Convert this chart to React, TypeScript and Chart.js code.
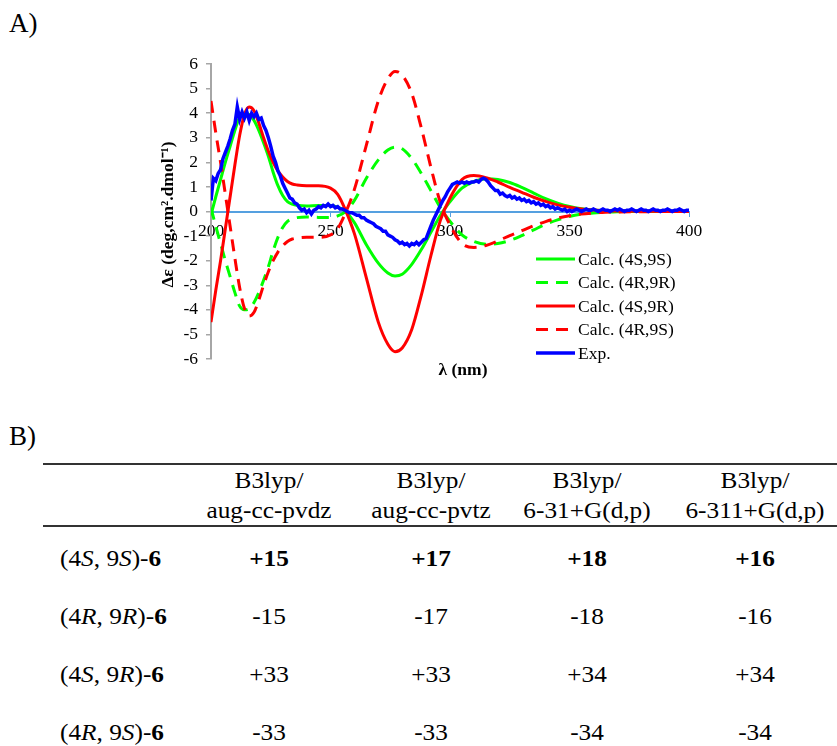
import React, { useEffect, useRef } from 'react';
import { Chart, registerables } from 'chart.js';

Chart.register(...registerables);

// ---------- Chart data (panel A) ----------
const calcWavelength = [
  200, 202, 204, 206, 208, 210, 212, 214, 216, 218, 220, 222, 224, 226, 228, 230, 232, 234, 236, 240,
  245, 250, 253, 256, 260, 265, 270, 274, 277, 280, 284, 288, 292, 296, 300, 305, 310, 315, 320, 325,
  330, 335, 340, 345, 350, 355, 360, 365, 370, 380, 390, 400,
];
const calc4S9S = [
  -0.15, 0.6, 1.3, 2.0, 2.65, 3.3, 3.85, 4.0, 3.95, 3.7, 3.3, 2.8, 2.25, 1.6, 1.05, 0.65, 0.4, 0.3, 0.25, 0.22,
  0.24, 0.24, 0.18, 0.03, -0.45, -1.35, -2.1, -2.5, -2.62, -2.55, -2.15, -1.55, -0.85, -0.15, 0.4, 0.95, 1.22, 1.33, 1.3, 1.18,
  0.98, 0.75, 0.52, 0.34, 0.2, 0.11, 0.06, 0.03, 0.01, 0, 0, 0,
];
const calc4R9R = [
  0.15, -0.6, -1.3, -2.0, -2.65, -3.3, -3.85, -4.0, -3.95, -3.7, -3.3, -2.8, -2.25, -1.6, -1.05, -0.65, -0.4, -0.3, -0.25, -0.22,
  -0.24, -0.24, -0.18, -0.03, 0.45, 1.35, 2.1, 2.5, 2.62, 2.55, 2.15, 1.55, 0.85, 0.15, -0.4, -0.95, -1.22, -1.33, -1.3, -1.18,
  -0.98, -0.75, -0.52, -0.34, -0.2, -0.11, -0.06, -0.03, -0.01, 0, 0, 0,
];
const calc4S9R = [
  -4.5, -3.2, -2.0, -0.7, 0.6, 1.9, 3.1, 3.95, 4.25, 4.1, 3.6, 3.0, 2.45, 2.0, 1.65, 1.4, 1.22, 1.12, 1.08, 1.05,
  1.05, 0.95, 0.7, 0.12, -0.9, -2.7, -4.5, -5.4, -5.7, -5.55, -4.8, -3.4, -1.8, -0.35, 0.55, 1.3, 1.46, 1.38, 1.2, 0.98,
  0.78, 0.58, 0.41, 0.27, 0.17, 0.1, 0.06, 0.03, 0.02, 0.01, 0, 0,
];
const calc4R9S = [
  4.5, 3.2, 2.0, 0.7, -0.6, -1.9, -3.1, -3.95, -4.25, -4.1, -3.6, -3.0, -2.45, -2.0, -1.65, -1.4, -1.22, -1.12, -1.08, -1.05,
  -1.05, -0.95, -0.7, -0.12, 0.9, 2.7, 4.5, 5.4, 5.7, 5.55, 4.8, 3.4, 1.8, 0.35, -0.55, -1.3, -1.46, -1.38, -1.2, -0.98,
  -0.78, -0.58, -0.41, -0.27, -0.17, -0.1, -0.06, -0.03, -0.02, -0.01, 0, 0,
];

const expWavelength = [
  200, 201, 202, 203, 204, 205, 206, 207, 208, 209, 210, 211, 212, 213, 214, 215, 216, 217, 218, 219,
  220, 221, 222, 223, 224, 225, 226, 227, 228, 229, 230, 231, 232, 233, 234, 235, 236, 237, 238, 239,
  240, 241, 242, 243, 244, 245, 246, 247, 248, 249, 250, 251, 252, 253, 254, 255, 256, 257, 258, 259,
  260, 261, 262, 263, 264, 265, 266, 267, 268, 269, 270, 271, 272, 273, 274, 275, 276, 277, 278, 279,
  280, 281, 282, 283, 284, 285, 286, 287, 288, 289, 290, 291, 292, 293, 294, 295, 296, 297, 298, 299,
  300, 301, 302, 303, 304, 305, 306, 307, 308, 309, 310, 311, 312, 313, 314, 315, 316, 317, 318, 319,
  320, 321, 322, 323, 324, 325, 326, 327, 328, 329, 330, 331, 332, 333, 334, 335, 336, 337, 338, 339,
  340, 341, 342, 343, 344, 345, 346, 347, 348, 349, 350, 351, 352, 353, 354, 355, 356, 357, 358, 359,
  360, 361, 362, 363, 364, 365, 366, 367, 368, 369, 370, 371, 372, 373, 374, 375, 376, 377, 378, 379,
  380, 381, 382, 383, 384, 385, 386, 387, 388, 389, 390, 391, 392, 393, 394, 395, 396, 397, 398, 399,
  400,
];
const expValues = [
  0.45, 1.35, 1.25, 1.55, 1.7, 2.15, 2.4, 2.65, 2.95, 3.3,
  3.55, 4.25, 3.75, 4.05, 3.8, 4.05, 3.7, 4.0, 3.85, 4.0,
  3.75, 3.8, 3.5, 3.3, 3.0, 2.65, 2.25, 2.0, 1.65, 1.45,
  1.15, 0.95, 0.75, 0.55, 0.5, 0.35, 0.3, 0.15, 0.05, 0.1,
  -0.05, 0.05, -0.1, 0.05, 0.1, 0.2, 0.15, 0.25, 0.2, 0.3,
  0.2, 0.25, 0.15, 0.2, 0.1, 0.1, 0.05, 0.0, -0.05, -0.05,
  -0.1, -0.15, -0.15, -0.25, -0.25, -0.35, -0.4, -0.45, -0.5, -0.6,
  -0.65, -0.7, -0.8, -0.8, -0.95, -1.0, -1.05, -1.15, -1.2, -1.3,
  -1.25, -1.35, -1.3, -1.4, -1.3, -1.35, -1.25, -1.35, -1.25, -1.15,
  -1.1, -0.85, -0.6, -0.35, -0.15, 0.05, 0.25, 0.45, 0.6, 0.8,
  0.95, 1.1, 1.15, 1.2, 1.15, 1.2, 1.15, 1.2, 1.15, 1.2,
  1.2, 1.25, 1.2, 1.3, 1.35, 1.3, 1.2, 1.05, 0.95, 0.85,
  0.85, 0.7, 0.75, 0.65, 0.6, 0.65, 0.55, 0.6, 0.5, 0.55,
  0.45, 0.5, 0.4, 0.45, 0.35, 0.4, 0.3, 0.35, 0.25, 0.3,
  0.2, 0.25, 0.15, 0.2, 0.1, 0.15, 0.1, 0.05, 0.1, 0.0,
  0.05, 0.0, 0.05, 0.1, 0.05, 0.0, 0.05, 0.1, 0.05, 0.05,
  0.1, 0.05, 0.0, 0.05, 0.1, 0.05, 0.05, 0.0, 0.05, 0.1,
  0.05, 0.1, 0.05, 0.0, 0.05, 0.05, 0.1, 0.05, 0.0, 0.05,
  0.1, 0.05, 0.05, 0.0, 0.05, 0.1, 0.05, 0.05, 0.0, 0.05,
  0.05, 0.1, 0.05, 0.0, 0.05, 0.05, 0.1, 0.05, 0.0, 0.05,
  0.05,
];

const seriesLabels = ['Calc. (4S,9S)', 'Calc. (4R,9R)', 'Calc. (4S,9R)', 'Calc. (4R,9S)', 'Exp.'];
const xAxisTitle = 'λ (nm)';
const yAxisTitle = 'Δε (deg,cm².dmol⁻¹)';

// ---------- Table data (panel B) ----------
const headerLine1 = ['B3lyp/', 'B3lyp/', 'B3lyp/', 'B3lyp/'];
const headerLine2 = ['aug-cc-pvdz', 'aug-cc-pvtz', '6-31+G(d,p)', '6-311+G(d,p)'];
const rowConfig4 = ['S', 'R', 'S', 'R'];
const rowConfig9 = ['S', 'R', 'R', 'S'];
const row4S9S = ['+15', '+17', '+18', '+16'];
const row4R9R = ['-15', '-17', '-18', '-16'];
const row4S9R = ['+33', '+33', '+34', '+34'];
const row4R9S = ['-33', '-33', '-34', '-34'];
const rowValues = [row4S9S, row4R9R, row4S9R, row4R9S];
const rowBold = [true, false, false, false];

// ---------- layout constants ----------
const SERIF = '"Liberation Serif", "Times New Roman", serif';
const GREEN = '#00FF00';
const RED = '#FF0000';
const BLUE = '#0000FF';
const DASH = [12, 8];

const toPts = (xs: number[], ys: number[]) => xs.map((x, i) => ({ x, y: ys[i] }));

const overlayPlugin = {
  id: 'overlayText',
  afterDraw(chart: any) {
    const { ctx, chartArea: a } = chart;
    ctx.save();
    // legend
    const x0 = a.left + 325;
    const x1 = a.left + 364;
    const tx = a.left + 367;
    const y0 = a.top + 195;
    const step = 23.5;
    chart.data.datasets.forEach((ds: any, i: number) => {
      const y = y0 + i * step;
      ctx.beginPath();
      ctx.strokeStyle = ds.borderColor;
      ctx.lineWidth = ds.borderWidth;
      ctx.setLineDash(ds.borderDash || []);
      ctx.moveTo(x0, y);
      ctx.lineTo(x1, y);
      ctx.stroke();
      ctx.setLineDash([]);
      ctx.fillStyle = '#000';
      ctx.font = `17.5px ${SERIF}`;
      ctx.textAlign = 'left';
      ctx.textBaseline = 'middle';
      ctx.fillText(ds.label, tx, y + 1);
    });
    // axis titles
    ctx.font = `bold 17.5px ${SERIF}`;
    ctx.fillStyle = '#000';
    ctx.textAlign = 'center';
    ctx.textBaseline = 'middle';
    ctx.fillText(xAxisTitle, a.left + 252, a.bottom + 11);
    ctx.translate(a.left - 43, (a.top + a.bottom) / 2 + 3);
    ctx.rotate(-Math.PI / 2);
    ctx.fillText(yAxisTitle, 0, 0);
    ctx.restore();
  },
};

function Txt(props: {
  x: number;
  base: number;
  size: number;
  center?: boolean;
  bold?: boolean;
  sx?: number;
  children: any;
}) {
  const { x, base, size, center, bold, sx = 1, children } = props;
  return (
    <div
      style={{
        position: 'absolute',
        left: x,
        top: base - 0.891 * size,
        fontSize: size,
        lineHeight: `${1.107 * size}px`,
        whiteSpace: 'nowrap',
        fontWeight: bold ? 700 : 400,
        transform: center ? `translateX(-50%) scaleX(${sx})` : `scaleX(${sx})`,
        transformOrigin: center ? 'center' : 'left',
      }}
    >
      {children}
    </div>
  );
}

export default function App() {
  const ref = useRef<HTMLCanvasElement>(null);

  useEffect(() => {
    const tickFont = { family: SERIF, size: 17.5 };
    const chart = new Chart(ref.current as HTMLCanvasElement, {
      type: 'line',
      data: {
        datasets: [
          {
            label: seriesLabels[0],
            data: toPts(calcWavelength, calc4S9S),
            borderColor: GREEN,
            borderWidth: 3,
            borderDash: [],
            cubicInterpolationMode: 'monotone',
            pointRadius: 0,
            order: 4,
          },
          {
            label: seriesLabels[1],
            data: toPts(calcWavelength, calc4R9R),
            borderColor: GREEN,
            borderWidth: 3,
            borderDash: DASH,
            cubicInterpolationMode: 'monotone',
            pointRadius: 0,
            order: 3,
          },
          {
            label: seriesLabels[2],
            data: toPts(calcWavelength, calc4S9R),
            borderColor: RED,
            borderWidth: 3,
            borderDash: [],
            cubicInterpolationMode: 'monotone',
            pointRadius: 0,
            order: 2,
          },
          {
            label: seriesLabels[3],
            data: toPts(calcWavelength, calc4R9S),
            borderColor: RED,
            borderWidth: 3,
            borderDash: DASH,
            cubicInterpolationMode: 'monotone',
            pointRadius: 0,
            order: 1,
          },
          {
            label: seriesLabels[4],
            data: toPts(expWavelength, expValues),
            borderColor: BLUE,
            borderWidth: 3.5,
            borderDash: [],
            tension: 0,
            pointRadius: 0,
            order: 0,
          },
        ],
      } as any,
      options: {
        animation: false,
        responsive: false,
        maintainAspectRatio: false,
        layout: { padding: { left: 0, right: 148, top: 64, bottom: 41 } },
        plugins: { legend: { display: false }, tooltip: { enabled: false }, title: { display: false } },
        scales: {
          x: {
            type: 'linear',
            min: 200,
            max: 400,
            position: { y: 0 },
            afterFit: (s: any) => {
              s.height = 0;
            },
            ticks: { stepSize: 50, autoSkip: false, maxRotation: 0, font: tickFont, color: '#000', padding: 5 },
            grid: { drawOnChartArea: false, tickLength: 4, color: '#55A0E0', lineWidth: 1 },
            border: { color: '#55A0E0', width: 2 },
          },
          y: {
            type: 'linear',
            min: -6,
            max: 6,
            afterFit: (s: any) => {
              s.width = 211;
            },
            ticks: { stepSize: 1, font: tickFont, color: '#000', padding: 8 },
            grid: { drawOnChartArea: false, tickLength: 5, color: '#A6A6A6', lineWidth: 1.5 },
            border: { color: '#A6A6A6', width: 2 },
          },
        },
      } as any,
      plugins: [overlayPlugin],
    });
    return () => chart.destroy();
  }, []);

  const colCenters = [269, 431, 587, 755];
  const rowBase = [566, 624, 682, 740];
  const fs = 23;
  const sx = 1.1;

  return (
    <div
      style={{
        position: 'absolute',
        left: 0,
        top: 0,
        width: 837,
        height: 746,
        background: '#fff',
        overflow: 'hidden',
        fontFamily: SERIF,
        color: '#000',
      }}
    >
      <Txt x={9} base={33} size={27}>
        A)
      </Txt>
      <canvas
        ref={ref}
        width={837}
        height={400}
        style={{ position: 'absolute', left: 0, top: 0, width: 837, height: 400 }}
      />
      <Txt x={9} base={446} size={27}>
        B)
      </Txt>
      <div style={{ position: 'absolute', left: 43, top: 463, width: 794, height: 2, background: '#333' }} />
      <div style={{ position: 'absolute', left: 43, top: 525, width: 794, height: 2, background: '#333' }} />
      {headerLine1.map((h, i) => (
        <Txt key={'h1' + i} x={colCenters[i]} base={488} size={fs} center sx={sx}>
          {h}
        </Txt>
      ))}
      {headerLine2.map((h, i) => (
        <Txt key={'h2' + i} x={colCenters[i]} base={518} size={fs} center sx={sx}>
          {h}
        </Txt>
      ))}
      {rowValues.map((vals, r) => (
        <React.Fragment key={'r' + r}>
          <Txt x={60} base={rowBase[r]} size={fs} sx={sx}>
            (4<i>{rowConfig4[r]}</i>, 9<i>{rowConfig9[r]}</i>)-<b>6</b>
          </Txt>
          {vals.map((v, c) => (
            <Txt key={'c' + c} x={colCenters[c]} base={rowBase[r]} size={fs} center sx={sx} bold={rowBold[r]}>
              {v}
            </Txt>
          ))}
        </React.Fragment>
      ))}
    </div>
  );
}
